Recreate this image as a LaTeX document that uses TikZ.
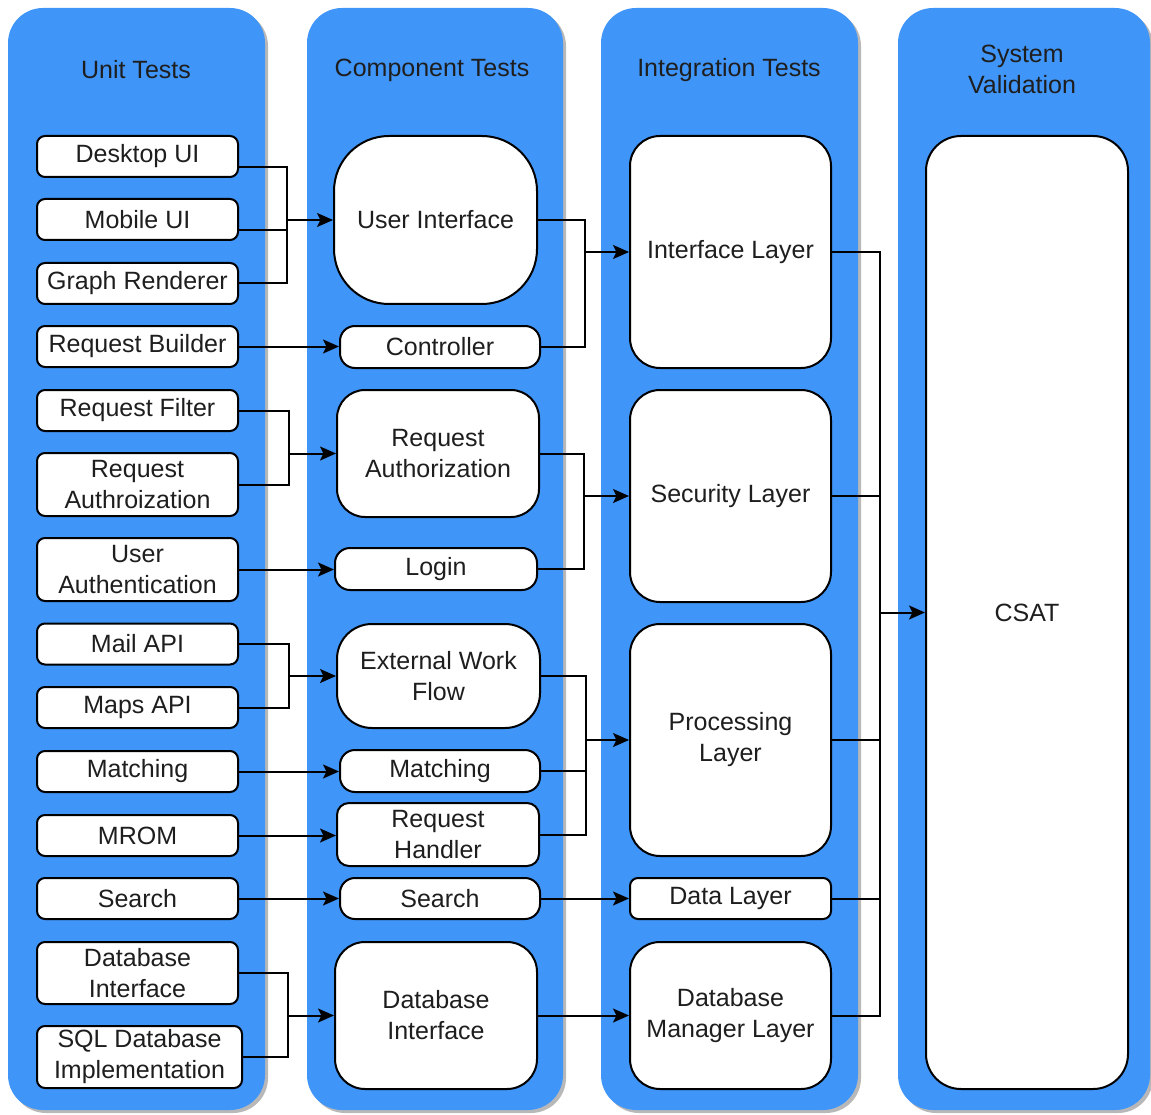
\documentclass[tikz,border=0pt]{standalone}
\usepackage{fontspec}
\setmainfont{Liberation Sans}
\usetikzlibrary{arrows.meta}
\definecolor{laneblue}{RGB}{64,149,248}
\definecolor{txt}{RGB}{30,30,30}
\tikzset{
 lane/.style={fill=laneblue,rounded corners=35pt},
 shade/.style={fill=black!28,rounded corners=35pt},
 hdr/.style={text=txt,align=center,font=\fontsize{25}{31}\selectfont},
 tbox/.style={draw=black,fill=white,line width=2pt,text=txt,align=center,inner sep=2pt,
   font=\fontsize{25}{31}\selectfont,rounded corners=#1},
 tbox/.default=8pt,
 link/.style={line width=2pt},
 arr/.style={link,-{Stealth[length=16pt,width=14pt,inset=3.5pt]}}
}
\begin{document}
\begin{tikzpicture}[x=1pt,y=-1pt]
 \useasboundingbox (0,0) rectangle (1151,1115);
 \foreach \l/\r in {8/265,307/563,601/858,898/1150} {
   \fill[shade] (\l+3,11) rectangle (\r+3,1113);
   \fill[lane] (\l,8) rectangle (\r,1110);
 }
 \node[hdr] (h1) at (136,70) {Unit Tests};
 \node[hdr] (h2) at (432,70) {Component Tests};
 \node[hdr] (h3) at (729,70) {Integration Tests};
 \node[hdr] (h4) at (1022,69) {System\\Validation};

 \node[tbox,minimum width=201pt,minimum height=41pt] (desk) at (137.5,156.5) {Desktop UI};
 \node[tbox,minimum width=201pt,minimum height=41pt] (mob) at (137.5,219.5) {Mobile UI};
 \node[tbox,minimum width=201pt,minimum height=41pt] (graph) at (137.5,283.5) {Graph Renderer};
 \node[tbox,minimum width=201pt,minimum height=41pt] (rbuild) at (137.5,346.5) {Request Builder};
 \node[tbox,minimum width=201pt,minimum height=41pt] (rfilt) at (137.5,410.5) {Request Filter};
 \node[tbox,minimum width=201pt,minimum height=63pt] (rauth) at (137.5,484.5) {Request\\Authroization};
 \node[tbox,minimum width=201pt,minimum height=63pt] (uauth) at (137.5,569.5) {User\\Authentication};
 \node[tbox,minimum width=201pt,minimum height=41pt] (mail) at (137.5,644) {Mail API};
 \node[tbox,minimum width=201pt,minimum height=41pt] (maps) at (137.5,707.5) {Maps API};
 \node[tbox,minimum width=201pt,minimum height=41pt] (umatch) at (137.5,771.5) {Matching};
 \node[tbox,minimum width=201pt,minimum height=41pt] (mrom) at (137.5,835.5) {MROM};
 \node[tbox,minimum width=201pt,minimum height=41pt] (usearch) at (137.5,898.5) {Search};
 \node[tbox,minimum width=201pt,minimum height=62pt] (udb) at (137.5,973) {Database\\Interface};
 \node[tbox,minimum width=205pt,minimum height=62pt] (sql) at (139.5,1057) {SQL Database\\Implementation};

 \node[tbox=55pt,minimum width=203pt,minimum height=168pt] (ui) at (435.5,220) {User Interface};
 \node[tbox=15pt,minimum width=200pt,minimum height=42pt] (ctrl) at (440,347) {Controller};
 \node[tbox=28pt,minimum width=202pt,minimum height=127pt] (creq) at (438,453.5) {Request\\Authorization};
 \node[tbox=15pt,minimum width=202pt,minimum height=42pt] (login) at (436,569) {Login};
 \node[tbox=35pt,minimum width=203pt,minimum height=104pt] (ewf) at (438.5,676) {External Work\\Flow};
 \node[tbox=15pt,minimum width=200pt,minimum height=42pt] (cmatch) at (440,771) {Matching};
 \node[tbox=12pt,minimum width=202pt,minimum height=63pt] (rhand) at (438,834.5) {Request\\Handler};
 \node[tbox=15pt,minimum width=200pt,minimum height=41pt] (csearch) at (440,898.5) {Search};
 \node[tbox=30pt,minimum width=202pt,minimum height=147pt] (cdb) at (436,1015.5) {Database\\Interface};

 \node[tbox=30pt,minimum width=201pt,minimum height=232pt] (il) at (730.5,252) {Interface Layer};
 \node[tbox=30pt,minimum width=201pt,minimum height=212pt] (sl) at (730.5,496) {Security Layer};
 \node[tbox=30pt,minimum width=201pt,minimum height=232pt] (pl) at (730.5,740) {Processing\\Layer};
 \node[tbox,minimum width=201pt,minimum height=41pt] (dl) at (730.5,898.5) {Data Layer};
 \node[tbox=30pt,minimum width=201pt,minimum height=147pt] (dml) at (730.5,1015.5) {Database\\Manager Layer};

 \node[tbox=35pt,minimum width=202pt,minimum height=953pt] (csat) at (1027,612.5) {CSAT};

 \coordinate (jui) at (287,220);
 \coordinate (jil) at (585,252);
 \coordinate (jcreq) at (289,453.5);
 \coordinate (jsl) at (584,496);
 \coordinate (jewf) at (289,676);
 \coordinate (jpl) at (586,740);
 \coordinate (jcdb) at (288,1015.5);
 \coordinate (jcsat) at (880,612.5);

 \draw[link] ([yshift=-11pt]desk.east) -| (jui);
 \draw[link] ([yshift=-11pt]mob.east) -| (jui);
 \draw[link] (graph.east) -| (jui);
 \draw[arr] (jui) -- (jui -| ui.west);
 \draw[arr] (rbuild.east) -- (rbuild.east -| ctrl.west);
 \draw[link] (ui.east) -| (jil);
 \draw[link] (ctrl.east) -| (jil);
 \draw[arr] (jil) -- (jil -| il.west);

 \draw[link] (rfilt.east) -| (jcreq);
 \draw[link] (rauth.east) -| (jcreq);
 \draw[arr] (jcreq) -- (jcreq -| creq.west);
 \draw[arr] (uauth.east) -- (uauth.east -| login.west);
 \draw[link] (creq.east) -| (jsl);
 \draw[link] (login.east) -| (jsl);
 \draw[arr] (jsl) -- (jsl -| sl.west);

 \draw[link] (mail.east) -| (jewf);
 \draw[link] (maps.east) -| (jewf);
 \draw[arr] (jewf) -- (jewf -| ewf.west);
 \draw[arr] (umatch.east) -- (umatch.east -| cmatch.west);
 \draw[arr] (mrom.east) -- (mrom.east -| rhand.west);
 \draw[link] (ewf.east) -| (jpl);
 \draw[link] (cmatch.east) -| (jpl);
 \draw[link] (rhand.east) -| (jpl);
 \draw[arr] (jpl) -- (jpl -| pl.west);

 \draw[arr] (usearch.east) -- (usearch.east -| csearch.west);
 \draw[arr] (csearch.east) -- (csearch.east -| dl.west);

 \draw[link] (udb.east) -| (jcdb);
 \draw[link] (sql.east) -| (jcdb);
 \draw[arr] (jcdb) -- (jcdb -| cdb.west);
 \draw[arr] (cdb.east) -- (cdb.east -| dml.west);

 \foreach \n in {il,sl,pl,dl,dml}
   \draw[link] (\n.east) -| (jcsat);
 \draw[arr] (jcsat) -- (jcsat -| csat.west);
\end{tikzpicture}
\end{document}
